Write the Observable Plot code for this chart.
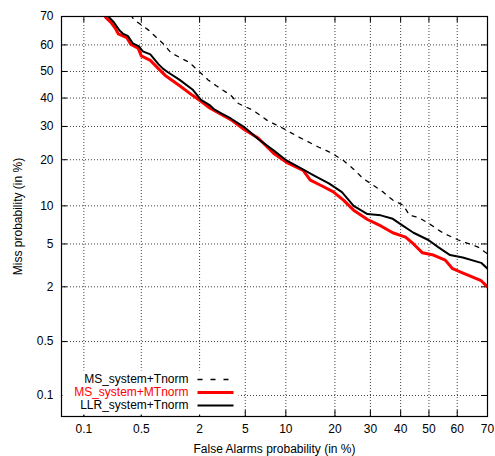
<!DOCTYPE html>
<html><head><meta charset="utf-8">
<script src="https://cdn.jsdelivr.net/npm/d3@7"></script>
<script src="https://cdn.jsdelivr.net/npm/@observablehq/plot@0.6"></script>
<style>body{margin:0;background:#fff}</style>
</head><body><div id="chart"></div>
<script>
// Tick labels (in %)
const xTickLabels = ["0.1","0.5","2","5","10","20","30","40","50","60","70"];
const yTickLabels = ["0.1","0.5","2","5","10","20","30","40","50","60","70"];
const domainPct = [0.05, 70];

// MS_system+Tnorm (dashed)
const msTnormFA   = [0.38,0.41,0.61,0.88,1.05,1.6,2.06,2.4,2.84,3.8,4.4,5.8,7.4,9.3,12.3,16.2,18.9,22.2,25.5,27.7,30.9,33.9,37.3,40.9,43.1,46.2,49.8,54.9,60.4,67,70];
const msTnormMiss = [70.5,69,65.2,60.2,57,53.4,49.3,46.8,44.6,41,38,35.5,32,29.7,26.5,23.5,22,19.8,17.2,15.4,13.9,12.6,11.0,10.1,8.5,8.2,7.4,6.2,5.4,4.7,4.1];

// MS_system+MTnorm (red)
const msMTnormFA   = [0.185,0.19,0.22,0.25,0.27,0.34,0.38,0.46,0.50,0.63,0.77,0.91,1.28,1.71,2.06,2.5,3.8,4.9,6.3,8.2,10.1,13,14.4,16.6,19.5,22.2,25,29.1,33.5,37.3,41.7,44.5,47.6,51.6,55.8,58.4,62,68,70];
const msMTnormMiss = [70.5,69.7,68,65.9,64,62.7,60.2,58.8,55.9,54.2,51.1,48.5,44.6,41,38.8,36.3,32.3,29,26.3,21.8,19.3,17.3,15,13.9,12.6,11.0,9.3,7.9,7.0,6.2,5.7,5.0,4.2,4.0,3.6,3.0,2.73,2.3,2.0];

// LLR_system+Tnorm (black)
const llrTnormFA   = [0.205,0.21,0.24,0.28,0.31,0.35,0.40,0.47,0.52,0.63,0.77,0.86,0.97,1.28,1.71,2.06,2.5,2.7,3.2,3.8,4.9,6.3,8.2,10.1,12.6,15.1,18.5,21.8,25,29.1,33.3,37.3,40.6,44.5,49.8,53.3,57.5,61.9,68,70];
const llrTnormMiss = [70.5,69.7,68,65.2,64,63.3,60.6,59.5,57.6,56.5,52.8,51.1,49.7,46.8,43.2,39.3,37.3,36,34.3,32.7,29.8,26,22.6,19.8,17.8,16.1,14.3,12.5,10.0,8.7,8.5,8.0,7.1,6.2,5.4,4.7,4.0,3.8,3.4,3.0];

const seriesNames = ["MS_system+Tnorm","MS_system+MTnorm","LLR_system+Tnorm"];

// inverse normal CDF (Acklam)
function probit(p){
  const a=[-3.969683028665376e+01,2.209460984245205e+02,-2.759285104469687e+02,1.383577518672690e+02,-3.066479806614716e+01,2.506628277459239e+00];
  const b=[-5.447609879822406e+01,1.615858368580409e+02,-1.556989798598866e+02,6.680131188771972e+01,-1.328068155288572e+01];
  const c=[-7.784894002430293e-03,-3.223964580411365e-01,-2.400758277161838e+00,-2.549732539343734e+00,4.374664141464968e+00,2.938163982698783e+00];
  const d=[7.784695709041462e-03,3.224671290700398e-01,2.445134137142996e+00,3.754408661907416e+00];
  const pl=0.02425, ph=1-pl;
  let q,r;
  if(p<pl){q=Math.sqrt(-2*Math.log(p));return (((((c[0]*q+c[1])*q+c[2])*q+c[3])*q+c[4])*q+c[5])/((((d[0]*q+d[1])*q+d[2])*q+d[3])*q+1);}
  if(p<=ph){q=p-0.5;r=q*q;return (((((a[0]*r+a[1])*r+a[2])*r+a[3])*r+a[4])*r+a[5])*q/(((((b[0]*r+b[1])*r+b[2])*r+b[3])*r+b[4])*r+1);}
  q=Math.sqrt(-2*Math.log(1-p));return -(((((c[0]*q+c[1])*q+c[2])*q+c[3])*q+c[4])*q+c[5])/((((d[0]*q+d[1])*q+d[2])*q+d[3])*q+1);
}
const P = v => probit(v/100);

const toRows = (fa, miss) => fa.map((f,i)=>({fa:f, miss:miss[i]}));
const msT = toRows(msTnormFA, msTnormMiss);
const msMT = toRows(msMTnormFA, msMTnormMiss);
const llr = toRows(llrTnormFA, llrTnormMiss);

const xTicks = xTickLabels.map(s=>P(+s));
const yTicks = yTickLabels.map(s=>P(+s));
const fmtFrom = (ticks, labels) => v => { let bi=0, bd=Infinity; ticks.forEach((t,i)=>{const dd=Math.abs(t-v); if(dd<bd){bd=dd;bi=i;}}); return labels[bi]; };

const W=495, H=456, mt=16, mr=8, mb=40, ml=61;
const fw = W-ml-mr, fh = H-mt-mb;
const lineSymbol = {draw(ctx){ ctx.moveTo(-18,0); ctx.lineTo(18,0); }};
const boxSymbol = {draw(ctx){ ctx.rect(-88,-22,176,44); }};
const font = "Liberation Sans, Arial, Helvetica, sans-serif";

const chart = Plot.plot({
  width: W, height: H,
  marginTop: mt, marginRight: mr, marginBottom: mb, marginLeft: ml,
  style: {fontFamily: font, fontSize: "12px", background: "#fff", color: "#000"},
  x: {type: "linear", domain: domainPct.map(P), axis: null},
  y: {type: "linear", domain: domainPct.map(P), axis: null},
  marks: [
    Plot.gridX(xTicks, {stroke: "#000", strokeOpacity: 0.75, strokeDasharray: "1,2"}),
    Plot.gridY(yTicks, {stroke: "#000", strokeOpacity: 0.75, strokeDasharray: "1,2"}),
    Plot.tickX(xTicks, {x: d=>d, insetTop: fh-6, stroke: "#000"}),
    Plot.tickX(xTicks, {x: d=>d, insetBottom: fh-6, stroke: "#000"}),
    Plot.tickY(yTicks, {y: d=>d, insetRight: fw-6, stroke: "#000"}),
    Plot.tickY(yTicks, {y: d=>d, insetLeft: fw-6, stroke: "#000"}),
    Plot.axisX(xTicks, {tickSize: 0, tickPadding: 8, tickFormat: fmtFrom(xTicks, xTickLabels), fontSize: 12, label: null}),
    Plot.axisY(yTicks, {tickSize: 0, tickPadding: 8, tickFormat: fmtFrom(yTicks, yTickLabels), fontSize: 12, label: null}),
    Plot.line(msT, {x: d=>P(d.fa), y: d=>P(d.miss), stroke: "#000", strokeWidth: 1.3, strokeDasharray: "4,6", clip: true}),
    Plot.line(msMT, {x: d=>P(d.fa), y: d=>P(d.miss), stroke: "#ff0000", strokeWidth: 3, clip: true}),
    Plot.line(llr, {x: d=>P(d.fa), y: d=>P(d.miss), stroke: "#000", strokeWidth: 2, clip: true}),
    Plot.dot([0], {frameAnchor: "bottom-left", dx: 89, dy: -24, symbol: boxSymbol, fill: "#fff", stroke: "none"}),
    Plot.frame({stroke: "#000", strokeWidth: 1.2}),
    Plot.text([seriesNames[0]], {frameAnchor: "bottom-left", dx: 127, dy: -37, textAnchor: "end", lineAnchor: "middle", fill: "#000", fontSize: 12}),
    Plot.text([seriesNames[1]], {frameAnchor: "bottom-left", dx: 127, dy: -24, textAnchor: "end", lineAnchor: "middle", fill: "#ff0000", fontSize: 12}),
    Plot.text([seriesNames[2]], {frameAnchor: "bottom-left", dx: 127, dy: -11, textAnchor: "end", lineAnchor: "middle", fill: "#000", fontSize: 12}),
    Plot.dot([0], {frameAnchor: "bottom-left", dx: 154, dy: -37, symbol: lineSymbol, fill: "none", stroke: "#000", strokeWidth: 1.3, strokeDasharray: "5,8"}),
    Plot.dot([0], {frameAnchor: "bottom-left", dx: 154, dy: -24, symbol: lineSymbol, fill: "none", stroke: "#ff0000", strokeWidth: 3}),
    Plot.dot([0], {frameAnchor: "bottom-left", dx: 154, dy: -11, symbol: lineSymbol, fill: "none", stroke: "#000", strokeWidth: 2}),
    Plot.text(["False Alarms probability (in %)"], {frameAnchor: "bottom", dy: 33, lineAnchor: "middle", textAnchor: "middle", fontSize: 12}),
    Plot.text(["Miss probability (in %)"], {frameAnchor: "left", dx: -43, rotate: -90, textAnchor: "middle", lineAnchor: "middle", fontSize: 12})
  ]
});
document.getElementById("chart").appendChild(chart);
</script></body></html>
